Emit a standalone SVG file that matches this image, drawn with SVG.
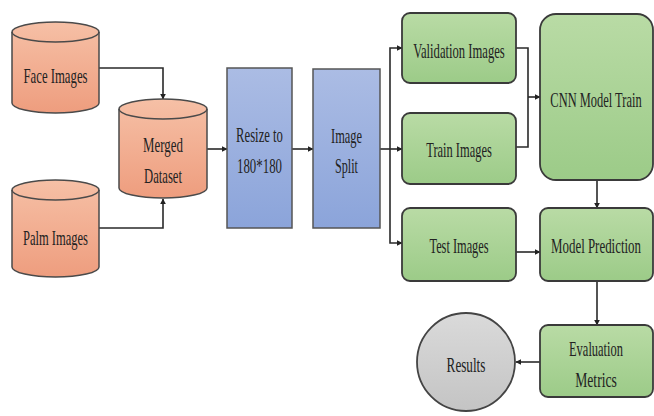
<svg xmlns="http://www.w3.org/2000/svg" width="654" height="416" viewBox="0 0 654 416">
<defs>
<linearGradient id="gOr" x1="0" y1="0" x2="0" y2="1"><stop offset="0" stop-color="#f6c0a6"/><stop offset="1" stop-color="#ee9d7e"/></linearGradient>
<linearGradient id="gBl" x1="0" y1="0" x2="0" y2="1"><stop offset="0" stop-color="#abbce4"/><stop offset="1" stop-color="#8ba4da"/></linearGradient>
<linearGradient id="gGr" x1="0" y1="0" x2="0" y2="1"><stop offset="0" stop-color="#b9dba5"/><stop offset="1" stop-color="#9ccb88"/></linearGradient>
<linearGradient id="gGy" x1="0" y1="0" x2="0" y2="1"><stop offset="0" stop-color="#dadada"/><stop offset="1" stop-color="#c4c4c4"/></linearGradient>
<marker id="ah" viewBox="0 0 10 10" refX="9" refY="5" markerWidth="6" markerHeight="6" orient="auto" markerUnits="userSpaceOnUse"><path d="M0,0 L10,5 L0,10 Z" fill="#222"/></marker>
<style>
.cyl{fill:url(#gOr);stroke:#4a4a4a;stroke-width:1.5}
.blue{fill:url(#gBl);stroke:#555;stroke-width:1.5}
.green{fill:url(#gGr);stroke:#3a3a3a;stroke-width:1.8}
.gray{fill:url(#gGy);stroke:#444;stroke-width:1.8}
.t{font-family:"Liberation Serif","Times New Roman",serif;font-size:22px;fill:#222;text-anchor:middle}
.c{fill:none;stroke:#2a2a2a;stroke-width:1.6;marker-end:url(#ah)}
.l{fill:none;stroke:#2a2a2a;stroke-width:1.6}
</style>
</defs>
<g id="connectors">
<path class="c" d="M99,68 H163 V99"/>
<path class="c" d="M99,228 H163 V199"/>
<path class="c" d="M207,149 H227"/>
<path class="c" d="M292,149 H313"/>
<path class="l" d="M380,149 H390"/>
<path class="c" d="M390,149 V48 H402"/>
<path class="c" d="M390,149 H402"/>
<path class="c" d="M390,149 V243 H402"/>
<path class="l" d="M516,48 H528 V147 H516"/>
<path class="c" d="M528,97 H540"/>
<path class="c" d="M597,180 V208"/>
<path class="c" d="M516,252 H540"/>
<path class="c" d="M597,281 V325"/>
<path class="c" d="M540,362 H516"/>
</g>
<g id="face">
<path class="cyl" d="M12,32 A43.5,10 0 0 1 99,32 V103 A43.5,10 0 0 1 12,103 Z"/>
<path class="cyl" style="fill:none" d="M12,32 A43.5,10 0 0 0 99,32"/>
<text class="t" transform="translate(55.5,83) scale(0.579,1)">Face Images</text>
</g>
<g id="palm">
<path class="cyl" d="M12,190 A43.5,10 0 0 1 99,190 V267 A43.5,10 0 0 1 12,267 Z"/>
<path class="cyl" style="fill:none" d="M12,190 A43.5,10 0 0 0 99,190"/>
<text class="t" transform="translate(55.5,245) scale(0.569,1)">Palm Images</text>
</g>
<g id="merged">
<path class="cyl" d="M119,109 A44,10 0 0 1 207,109 V188 A44,10 0 0 1 119,188 Z"/>
<path class="cyl" style="fill:none" d="M119,109 A44,10 0 0 0 207,109"/>
<text class="t" transform="translate(163,152) scale(0.585,1)">Merged</text>
<text class="t" transform="translate(163,183) scale(0.576,1)">Dataset</text>
</g>
<g id="resize">
<rect class="blue" x="227" y="68" width="65" height="160"/>
<text class="t" transform="translate(259.5,142) scale(0.578,1)">Resize to</text>
<text class="t" transform="translate(259.5,173) scale(0.584,1)">180*180</text>
</g>
<g id="split">
<rect class="blue" x="313" y="69" width="67" height="159"/>
<text class="t" transform="translate(346.5,143) scale(0.564,1)">Image</text>
<text class="t" transform="translate(346.5,173) scale(0.553,1)">Split</text>
</g>
<g id="validation">
<rect class="green" x="402" y="13" width="114" height="70" rx="8"/>
<text class="t" transform="translate(459,58) scale(0.574,1)">Validation Images</text>
</g>
<g id="train">
<rect class="green" x="402" y="113" width="114" height="71" rx="8"/>
<text class="t" transform="translate(459,157) scale(0.566,1)">Train Images</text>
</g>
<g id="test">
<rect class="green" x="402" y="208" width="114" height="73" rx="8"/>
<text class="t" transform="translate(459,253) scale(0.561,1)">Test Images</text>
</g>
<g id="cnn">
<rect class="green" x="540" y="14" width="113" height="166" rx="16"/>
<text class="t" transform="translate(596,107) scale(0.566,1)">CNN Model Train</text>
</g>
<g id="prediction">
<rect class="green" x="540" y="208" width="113" height="73" rx="8"/>
<text class="t" transform="translate(596,253) scale(0.587,1)">Model Prediction</text>
</g>
<g id="evaluation">
<rect class="green" x="540" y="325" width="113" height="72" rx="8"/>
<text class="t" transform="translate(596,356) scale(0.567,1)">Evaluation</text>
<text class="t" transform="translate(596,387) scale(0.62,1)">Metrics</text>
</g>
<g id="results">
<circle class="gray" cx="466" cy="362" r="49"/>
<text class="t" transform="translate(466,372) scale(0.6,1)">Results</text>
</g>
</svg>
